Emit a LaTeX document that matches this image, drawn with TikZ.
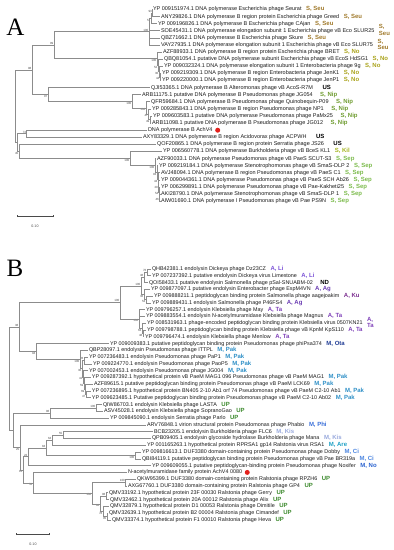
\documentclass[tikz,border=0pt]{standalone}
\usepackage{fontspec}
\setmainfont{Liberation Sans}
\newfontfamily\phserif{Liberation Serif}
\usepackage{xcolor}
\usepackage{tikz}
\usetikzlibrary{positioning}
\definecolor{phline}{HTML}{8C8C8C}
\definecolor{phgrey}{HTML}{4A4A4A}
\definecolor{phtext}{HTML}{1A1A1A}
\definecolor{phred}{HTML}{E3211C}
\definecolor{phseu}{HTML}{A07A2C}
\definecolor{phno}{HTML}{A9A21A}
\definecolor{phnip}{HTML}{6E9B2F}
\definecolor{phkil}{HTML}{A5B420}
\definecolor{phsep}{HTML}{7BBA4B}
\definecolor{phli}{HTML}{7B52D6}
\definecolor{phag}{HTML}{6A3CB2}
\definecolor{phku}{HTML}{7C2F90}
\definecolor{phta}{HTML}{7E40B8}
\definecolor{phota}{HTML}{203C94}
\definecolor{phpak}{HTML}{2E8FC6}
\definecolor{phup}{HTML}{3D8A2E}
\definecolor{phphi}{HTML}{3A6FD8}
\definecolor{phkis}{HTML}{97A8DC}
\definecolor{phare}{HTML}{1C9FC4}
\definecolor{phci}{HTML}{4B85E0}
\definecolor{phnob}{HTML}{2A62CF}
\newcommand{\phtag}[3][3pt]{\hspace{#1}{\color{#2}\fontsize{6}{6.2}\selectfont\bfseries #3}}
\newcommand{\phtagtwo}[3]{\hspace{3pt}{\color{#1}\fontsize{6}{6.2}\selectfont\bfseries
  \begin{tabular}[c]{@{}l@{}}#2\\#3\end{tabular}}}
\tikzset{
  branch/.style={draw=phline, line width=0.7pt},
  leaf/.style={anchor=west, inner sep=0.8pt, text=phtext, text height=3.9pt,
    text depth=1.1pt, font=\fontsize{5.4}{6.2}\selectfont},
  leafa/.style={leaf, font=\fontsize{5.5}{6.3}\selectfont},
  bsl/.style={inner sep=0.4pt, text=phgrey, font=\fontsize{3}{3}\selectfont},
  bsup/.style={label={[bsl]above left:#1}},
  bsdn/.style={label={[bsl]below left:#1}},
  panel/.style={font=\phserif\fontsize{25}{25}\selectfont, anchor=base, inner sep=0pt},
  achdot/.style={circle, fill=phred, inner sep=0pt, minimum size=5pt},
  scalebar/.style={draw=phgrey, line width=0.5pt},
  sblabel/.style={text=phgrey, font=\fontsize{3.6}{4}\selectfont, inner sep=0pt}
}

\begin{document}
\begin{tikzpicture}[x=1pt, y=-1pt]
  \useasboundingbox (0,0) rectangle (394,550);
  \node[panel] (pa) at (15.5,35) {A};
  \node[panel] (pb) at (15,276) {B};

  \coordinate (a-root) at (15.7,106.25);
  \coordinate[bsup=98] (a-x) at (32,69.9);
  \coordinate[bsup=99] (a-n99) at (54,45.25);
  \coordinate[bsup=100] (a-seu1) at (149,31.7);
  \coordinate[bsdn=51] (a-seu2) at (151,18.4);
  \coordinate[bsup=93] (a-seu3) at (152.5,13.05);
  \coordinate[bsdn=100] (a-no1) at (157,58.8);
  \coordinate[bsdn=52] (a-no2) at (158,65.4);
  \coordinate[bsdn=30] (a-no3) at (159,71.6);
  \coordinate[bsdn=44] (a-no4) at (160,76.95);
  \coordinate[bsdn=97] (a-n97) at (48,94.5);
  \coordinate[bsdn=100] (a-p1) at (132,101.35);
  \coordinate[bsdn=100] (a-p2) at (146,108.0);
  \coordinate[bsdn=47] (a-p3) at (148.5,114.2);
  \coordinate[bsdn=49] (a-p4) at (150,119.55);
  \coordinate (a-y) at (17,142.6);
  \coordinate[bsup=74] (a-n74) at (26.7,133.75);
  \coordinate[bsdn=45] (a-n45) at (19,151.5);
  \coordinate[bsdn=100] (a-z) at (130,158.5);
  \coordinate[bsdn=100] (a-sep1) at (155,165.6);
  \coordinate[bsdn=93] (a-sep2) at (157,172.6);
  \coordinate[bsdn=43] (a-sep3) at (158,179.5);
  \coordinate[bsdn=29] (a-sep4) at (158.5,186.1);
  \coordinate[bsdn=54] (a-sep5) at (159,192.3);
  \coordinate[bsdn=46] (a-sep6) at (159.5,197.65);

  \node[leafa] (a1) at (152,9.5) {YP 009151974.1 DNA polymerase Escherichia phage Seurat \phtag{phseu}{S, Seu}};
  \node[leafa] (a2) at (160,16.6) {ANY29826.1 DNA polymerase B region protein Escherichia phage Greed \phtag{phseu}{S, Seu}};
  \node[leafa] (a3) at (157,23.7) {YP 009196826.1 DNA polymerase B Escherichia phage CAjan \phtag{phseu}{S, Seu}};
  \node[leafa] (a4) at (160,30.8) {SOE45431.1 DNA polymerase elongation subunit 1 Escherichia phage vB Eco SLUR25 \phtagtwo{phseu}{S,}{Seu}};
  \node[leafa] (a5) at (160,37.9) {QBZ71662.1 DNA polymerase B Escherichia phage Skure \phtag{phseu}{S, Seu}};
  \node[leafa] (a6) at (160,45.0) {VAY27935.1 DNA polymerase elongation subunit 1 Escherichia phage vB Eco SLUR75 \phtagtwo{phseu}{S,}{Seu}};
  \node[leafa] (a7) at (162,52.1) {AZF88933.1 DNA polymerase B region protein Escherichia phage BRET \phtag{phno}{S, No}};
  \node[leafa] (a8) at (163,59.2) {QBQ81054.1 putative DNA polymerase subunit Escherichia phage vB EcoS HdSG1 \phtag{phno}{S, No}};
  \node[leafa] (a9) at (163,66.3) {YP 009032324.1 DNA polymerase elongation subunit 1 Enterobacteria phage 9g \phtag{phno}{S, No}};
  \node[leafa] (a10) at (161,73.4) {YP 009219309.1 DNA polymerase B region Enterobacteria phage JenK1 \phtag{phno}{S, No}};
  \node[leafa] (a11) at (161,80.5) {YP 009220000.1 DNA polymerase B region Enterobacteria phage JenP1 \phtag{phno}{S, No}};
  \node[leafa] (a12) at (150,87.6) {QJI53365.1 DNA polymerase B Alteromonas phage vB AcoS-R7M \phtag[8pt]{black}{US}};
  \node[leafa] (a13) at (141,94.7) {ARB11175.1 putative DNA polymerase B Pseudomonas phage JG054 \phtag[6pt]{phnip}{S, Nip}};
  \node[leafa] (a14) at (150,101.8) {QFR59684.1 DNA polymerase B Pseudomonas phage Quinobequin-P09 \phtag[6pt]{phnip}{S, Nip}};
  \node[leafa] (a15) at (151,108.9) {YP 009285843.1 DNA polymerase B region Pseudomonas phage NP1 \phtag[6pt]{phnip}{S, Nip}};
  \node[leafa] (a16) at (152,116.0) {YP 009603583.1 putative DNA polymerase Pseudomonas phage PaMx25 \phtag[6pt]{phnip}{S, Nip}};
  \node[leafa] (a17) at (151,123.1) {ARB11098.1 putative DNA polymerase B Pseudomonas phage JG012 \phtag[6pt]{phnip}{S, Nip}};
  \node[leafa] (a18) at (147,130.2) {DNA polymerase B AchV4};
  \node[achdot, right=1.5pt of a18] (a18dot) {};
  \node[leafa] (a19) at (142,137.3) {AXY83329.1 DNA polymerase B region Acidovorax phage ACPWH \phtag[8pt]{black}{US}};
  \node[leafa] (a20) at (156,144.4) {QOF20865.1 DNA polymerase B region protein Serratia phage JS26 \phtag[8pt]{black}{US}};
  \node[leafa] (a21) at (162,151.5) {YP 006560778.1 DNA polymerase Burkholderia phage vB BceS KL1 \phtag{phkil}{S, Kil}};
  \node[leafa] (a22) at (156,158.6) {AZF90033.1 DNA polymerase Pseudomonas phage vB PaeS SCUT-S3 \phtag{phsep}{S, Sep}};
  \node[leafa] (a23) at (158,165.7) {YP 009219184.1 DNA polymerase Stenotrophomonas phage vB SmaS-DLP 2 \phtag{phsep}{S, Sep}};
  \node[leafa] (a24) at (160,172.8) {AVJ48094.1 DNA polymerase B region Pseudomonas phage vB PaeS C1 \phtag{phsep}{S, Sep}};
  \node[leafa] (a25) at (160,179.9) {YP 009044361.1 DNA polymerase Pseudomonas phage vB PaeS SCH Ab26 \phtag{phsep}{S, Sep}};
  \node[leafa] (a26) at (160,187.0) {YP 006299891.1 DNA polymerase Pseudomonas phage vB Pae-Kakheti25 \phtag{phsep}{S, Sep}};
  \node[leafa] (a27) at (160,194.1) {AKI28790.1 DNA polymerase Stenotrophomonas phage vB SmaS-DLP 1 \phtag{phsep}{S, Sep}};
  \node[leafa] (a28) at (160,201.2) {AIW01690.1 DNA polymerase I Pseudomonas phage vB Pae PS9N \phtag{phsep}{S, Sep}};

  \draw[branch] (a-root) |- (a-x) (a-root) |- (a-y);
  \draw[branch] (a-x) |- (a-n99) (a-x) |- (a-n97);
  \draw[branch] (a-n99) |- (a-seu1) (a-n99) |- (a-no1);
  \draw[branch] (a-seu1) |- (a-seu2) (a-seu1) |- (a4.west) (a-seu1) |- (a5.west) (a-seu1) |- (a6.west);
  \draw[branch] (a-seu2) |- (a-seu3) (a-seu2) |- (a3.west);
  \draw[branch] (a-seu3) |- (a1.west) (a-seu3) |- (a2.west);
  \draw[branch] (a-no1) |- (a7.west) (a-no1) |- (a-no2);
  \draw[branch] (a-no2) |- (a8.west) (a-no2) |- (a-no3);
  \draw[branch] (a-no3) |- (a9.west) (a-no3) |- (a-no4);
  \draw[branch] (a-no4) |- (a10.west) (a-no4) |- (a11.west);
  \draw[branch] (a-n97) |- (a12.west) (a-n97) |- (a-p1);
  \draw[branch] (a-p1) |- (a13.west) (a-p1) |- (a-p2);
  \draw[branch] (a-p2) |- (a14.west) (a-p2) |- (a-p3);
  \draw[branch] (a-p3) |- (a15.west) (a-p3) |- (a-p4);
  \draw[branch] (a-p4) |- (a16.west) (a-p4) |- (a17.west);
  \draw[branch] (a-y) |- (a-n74) (a-y) |- (a-n45);
  \draw[branch] (a-n74) |- (a18.west) (a-n74) |- (a19.west);
  \draw[branch] (a-n45) |- (a20.west) (a-n45) |- (a-z);
  \draw[branch] (a-z) |- (a21.west) (a-z) |- (a-sep1);
  \draw[branch] (a-sep1) |- (a22.west) (a-sep1) |- (a-sep2);
  \draw[branch] (a-sep2) |- (a23.west) (a-sep2) |- (a-sep3);
  \draw[branch] (a-sep3) |- (a24.west) (a-sep3) |- (a-sep4);
  \draw[branch] (a-sep4) |- (a25.west) (a-sep4) |- (a-sep5);
  \draw[branch] (a-sep5) |- (a26.west) (a-sep5) |- (a-sep6);
  \draw[branch] (a-sep6) |- (a27.west) (a-sep6) |- (a28.west);

  \coordinate (a-sb0) at (17,216);
  \coordinate (a-sb1) at (53,216);
  \draw[scalebar] (a-sb0) -- (a-sb1);
  \draw[scalebar] ([yshift=-1.2pt]a-sb0) -- ([yshift=1.2pt]a-sb0) ([yshift=-1.2pt]a-sb1) -- ([yshift=1.2pt]a-sb1);
  \node[sblabel] (a-sbl) at (35,226) {0.10};

  \coordinate (b-root) at (9,378.65);
  \coordinate[bsup=38] (b-am) at (19,327.05);
  \coordinate[bsup=100] (b-biga) at (120,302.5);
  \coordinate[bsup=100] (b-t) at (141,285.95);
  \coordinate[bsup=46] (b-lin) at (144,277.5);
  \coordinate[bsup=76] (b-li) at (147,272.4);
  \coordinate[bsdn=36] (b-ag) at (144,294.4);
  \coordinate[bsdn=53] (b-ag2) at (146,299.5);
  \coordinate[bsdn=100] (b-ta) at (139,319.0);
  \coordinate[bsdn=63] (b-ta2) at (142,328.3);
  \coordinate[bsdn=48] (b-ta3) at (143,333.4);
  \coordinate[bsdn=94] (b-m) at (36,351.6);
  \coordinate[bsdn=100] (b-pak) at (80,359.6);
  \coordinate[bsdn=36] (b-pakx) at (82,368.8);
  \coordinate[bsup=28] (b-pakc) at (84,360.5);
  \coordinate[bsdn=41] (b-pakb) at (83,377.1);
  \coordinate[bsdn=59] (b-pake) at (84,383.4);
  \coordinate[bsdn=69] (b-pakf) at (85,389.4);
  \coordinate[bsdn=47] (b-pakg) at (86,394.4);
  \coordinate (b-low) at (13,430.3);
  \coordinate[bsup=96] (b-upk2) at (50,413.1);
  \coordinate[bsup=100] (b-upk) at (96,408.0);
  \coordinate[bsdn=25] (b-n25) at (20,447.45);
  \coordinate[bsdn=14] (b-n14) at (23,469.85);
  \coordinate[bsup=22] (b-n22) at (28,456.8);
  \coordinate[bsup=84] (b-n84) at (46,447.85);
  \coordinate[bsup=64] (b-n64) at (52,440.2);
  \coordinate[bsup=55] (b-kis) at (63,435.1);
  \coordinate[bsdn=100] (b-ci) at (135,455.5);
  \coordinate[bsdn=52] (b-n52) at (33,482.85);
  \coordinate[bsdn=100] (b-rpr) at (92,493.2);
  \coordinate[bsup=100] (b-rp) at (125.5,482.6);
  \coordinate[bsdn=94] (b-ral) at (100,503.85);
  \coordinate[bsup=98] (b-rala) at (106,496.2);
  \coordinate[bsdn=78] (b-ralb) at (103,511.45);
  \coordinate[bsdn=95] (b-ralc) at (107,516.5);

  \node[leaf] (b1) at (151,269.0) {QHB42381.1 endolysin Dickeya phage Dz23CZ \phtag{phli}{A, Li}};
  \node[leaf] (b2) at (151,275.8) {YP 007237392.1 putative endolysin Dickeya virus Limestone \phtag{phli}{A, Li}};
  \node[leaf] (b3) at (148,282.6) {QOI58433.1 putative endolysin Salmonella phage pSal-SNUABM-02 \phtag[6pt]{black}{ND}};
  \node[leaf] (b4) at (150,289.3) {YP 009877097.1 putative endolysin Enterobacter phage EspM4VN \phtag{phag}{A, Ag}};
  \node[leaf] (b5) at (153,296.1) {YP 009888211.1 peptidoglycan binding protein Salmonella phage aagejoakim \phtag{phku}{A, Ku}};
  \node[leaf] (b6) at (151,302.9) {YP 009889431.1 endolysin Salmonella phage P46FS4 \phtag{phag}{A, Ag}};
  \node[leaf] (b7) at (145,309.7) {YP 009796257.1 endolysin Klebsiella phage May \phtag{phta}{A, Ta}};
  \node[leaf] (b8) at (145,316.5) {YP 009883554.1 endolysin N-acetylmuramidase Klebsiella phage Magnus \phtag{phta}{A, Ta}};
  \node[leaf] (b9) at (146,323.2) {YP 008531963.1 phage-encoded peptidoglycan binding protein Klebsiella virus 0507KN21 \phtagtwo{phta}{A,}{Ta}};
  \node[leaf] (b10) at (146,330.0) {YP 009798788.1 peptidoglycan binding protein Klebsiella phage vB KpnM KpS110 \phtag{phta}{A, Ta}};
  \node[leaf] (b11) at (144,336.8) {YP 009796474.1 endolysin Klebsiella phage Menlow \phtag{phta}{A, Ta}};
  \node[leaf] (b12) at (109,343.6) {YP 009009383.1 putative peptidoglycan binding protein Pseudomonas phage phiPsa374 \phtag{phota}{M, Ota}};
  \node[leaf] (b13) at (88,350.4) {QBP28097.1 endolysin Pseudomonas phage ITTPL \phtag{phpak}{M, Pak}};
  \node[leaf] (b14) at (88,357.1) {YP 007236483.1 endolysin Pseudomonas phage PaP1 \phtag{phpak}{M, Pak}};
  \node[leaf] (b15) at (92,363.9) {YP 009224770.1 endolysin Pseudomonas phage PaoP5 \phtag{phpak}{M, Pak}};
  \node[leaf] (b16) at (88,370.7) {YP 007002453.1 endolysin Pseudomonas phage JG004 \phtag{phpak}{M, Pak}};
  \node[leaf] (b17) at (91,377.5) {YP 009287392.1 hypothetical protein vB PaeM MAG1 096 Pseudomonas phage vB PaeM MAG1 \phtag{phpak}{M, Pak}};
  \node[leaf] (b18) at (93,384.3) {AZF89615.1 putative peptidoglycan binding protein Pseudomonas phage vB PaeM LCK69 \phtag{phpak}{M, Pak}};
  \node[leaf] (b19) at (91,391.0) {YP 007236895.1 hypothetical protein BN405 2-10 Ab1 orf 74 Pseudomonas phage vB PaeM C2-10 Ab1 \phtag{phpak}{M, Pak}};
  \node[leaf] (b20) at (91,397.8) {YP 009623485.1 Putative peptidoglycan binding protein Pseudomonas phage vB PaeM C2-10 Ab02 \phtag{phpak}{M, Pak}};
  \node[leaf] (b21) at (102,404.6) {QIW86703.1 endolysin Klebsiella phage LASTA \phtag{phup}{UP}};
  \node[leaf] (b22) at (103,411.4) {ASV45028.1 endolysin Klebsiella phage SopranoGao \phtag{phup}{UP}};
  \node[leaf] (b23) at (109,418.2) {YP 009845090.1 endolysin Serratia phage Parlo \phtag{phup}{UP}};
  \node[leaf] (b24) at (146,425.0) {ARV76848.1 virion structural protein Pseudomonas phage Phabio \phtag{phphi}{M, Phi}};
  \node[leaf] (b25) at (153,431.7) {BCB23205.1 endolysin Burkholderia phage FLC6 \phtag{phkis}{M, Kis}};
  \node[leaf] (b26) at (151,438.5) {QPB09405.1 endolysin glycoside hydrolase Burkholderia phage Mana \phtag{phkis}{M, Kis}};
  \node[leaf] (b27) at (146,445.3) {YP 001165263.1 hypothetical protein RPRSA1 gp14 Ralstonia virus RSA1 \phtag{phare}{M, Are}};
  \node[leaf] (b28) at (141,452.1) {YP 009816613.1 DUF3380 domain-containing protein Pseudomonas phage Dobby \phtag{phci}{M, Ci}};
  \node[leaf] (b29) at (141,458.9) {QBI84119.1 putative peptidoglycan binding protein Pseudomonas phage vB Pae BR319a \phtag{phci}{M, Ci}};
  \node[leaf] (b30) at (151,465.7) {YP 009609055.1 putative peptidoglycan-binding protein Pseudomonas phage Noxifer \phtag{phnob}{M, No}};
  \node[leaf] (b31) at (127,472.4) {N-acetylmuramidase family protein AchV4 0080};
  \node[achdot, right=1.5pt of b31] (b31dot) {};
  \node[leaf] (b32) at (136,479.2) {QKW95399.1 DUF3380 domain-containing protein Ralstonia phage RPZH6 \phtag{phup}{UP}};
  \node[leaf] (b33) at (127,486.0) {AXG67760.1 DUF3380 domain-containing protein Ralstonia phage GP4 \phtag{phup}{UP}};
  \node[leaf] (b34) at (108,492.8) {QMV33192.1 hypothetical protein 23F 00030 Ralstonia phage Gerry \phtag{phup}{UP}};
  \node[leaf] (b35) at (109,499.6) {QMV32462.1 hypothetical protein 20A 00012 Ralstonia phage Alix \phtag{phup}{UP}};
  \node[leaf] (b36) at (109,506.4) {QMV32879.1 hypothetical protein D1 00053 Ralstonia phage Dimitile \phtag{phup}{UP}};
  \node[leaf] (b37) at (108,513.1) {QMV32639.1 hypothetical protein B2 00004 Ralstonia phage Cimandef \phtag{phup}{UP}};
  \node[leaf] (b38) at (111,519.9) {QMV33374.1 hypothetical protein F1 00010 Ralstonia phage Heva \phtag{phup}{UP}};

  \draw[branch] (b-root) |- (b-am) (b-root) |- (b-low);
  \draw[branch] (b-am) |- (b-biga) (b-am) |- (b-m);
  \draw[branch] (b-biga) |- (b-t) (b-biga) |- (b-ta);
  \draw[branch] (b-t) |- (b-lin) (b-t) |- (b-ag);
  \draw[branch] (b-lin) |- (b-li) (b-lin) |- (b3.west);
  \draw[branch] (b-li) |- (b1.west) (b-li) |- (b2.west);
  \draw[branch] (b-ag) |- (b4.west) (b-ag) |- (b-ag2);
  \draw[branch] (b-ag2) |- (b5.west) (b-ag2) |- (b6.west);
  \draw[branch] (b-ta) |- (b7.west) (b-ta) |- (b8.west) (b-ta) |- (b-ta2);
  \draw[branch] (b-ta2) |- (b9.west) (b-ta2) |- (b-ta3);
  \draw[branch] (b-ta3) |- (b10.west) (b-ta3) |- (b11.west);
  \draw[branch] (b-m) |- (b12.west) (b-m) |- (b-pak);
  \draw[branch] (b-pak) |- (b13.west) (b-pak) |- (b-pakx);
  \draw[branch] (b-pakx) |- (b-pakc) (b-pakx) |- (b-pakb);
  \draw[branch] (b-pakc) |- (b14.west) (b-pakc) |- (b15.west);
  \draw[branch] (b-pakb) |- (b16.west) (b-pakb) |- (b-pake);
  \draw[branch] (b-pake) |- (b17.west) (b-pake) |- (b-pakf);
  \draw[branch] (b-pakf) |- (b18.west) (b-pakf) |- (b-pakg);
  \draw[branch] (b-pakg) |- (b19.west) (b-pakg) |- (b20.west);
  \draw[branch] (b-low) |- (b-upk2) (b-low) |- (b-n25);
  \draw[branch] (b-upk2) |- (b-upk) (b-upk2) |- (b23.west);
  \draw[branch] (b-upk) |- (b21.west) (b-upk) |- (b22.west);
  \draw[branch] (b-n25) |- (b24.west) (b-n25) |- (b-n14);
  \draw[branch] (b-n14) |- (b-n22) (b-n14) |- (b-n52);
  \draw[branch] (b-n22) |- (b-n84) (b-n22) |- (b30.west);
  \draw[branch] (b-n84) |- (b-n64) (b-n84) |- (b-ci);
  \draw[branch] (b-n64) |- (b-kis) (b-n64) |- (b27.west);
  \draw[branch] (b-kis) |- (b25.west) (b-kis) |- (b26.west);
  \draw[branch] (b-ci) |- (b28.west) (b-ci) |- (b29.west);
  \draw[branch] (b-n52) |- (b31.west) (b-n52) |- (b-rpr);
  \draw[branch] (b-rpr) |- (b-rp) (b-rpr) |- (b-ral);
  \draw[branch] (b-rp) |- (b32.west) (b-rp) |- (b33.west);
  \draw[branch] (b-ral) |- (b-rala) (b-ral) |- (b-ralb);
  \draw[branch] (b-rala) |- (b34.west) (b-rala) |- (b35.west);
  \draw[branch] (b-ralb) |- (b36.west) (b-ralb) |- (b-ralc);
  \draw[branch] (b-ralc) |- (b37.west) (b-ralc) |- (b38.west);

  \coordinate (b-sb0) at (16,534);
  \coordinate (b-sb1) at (49,534);
  \draw[scalebar] (b-sb0) -- (b-sb1);
  \draw[scalebar] ([yshift=-1.2pt]b-sb0) -- ([yshift=1.2pt]b-sb0) ([yshift=-1.2pt]b-sb1) -- ([yshift=1.2pt]b-sb1);
  \node[sblabel] (b-sbl) at (33,544) {0.10};
\end{tikzpicture}
\end{document}
